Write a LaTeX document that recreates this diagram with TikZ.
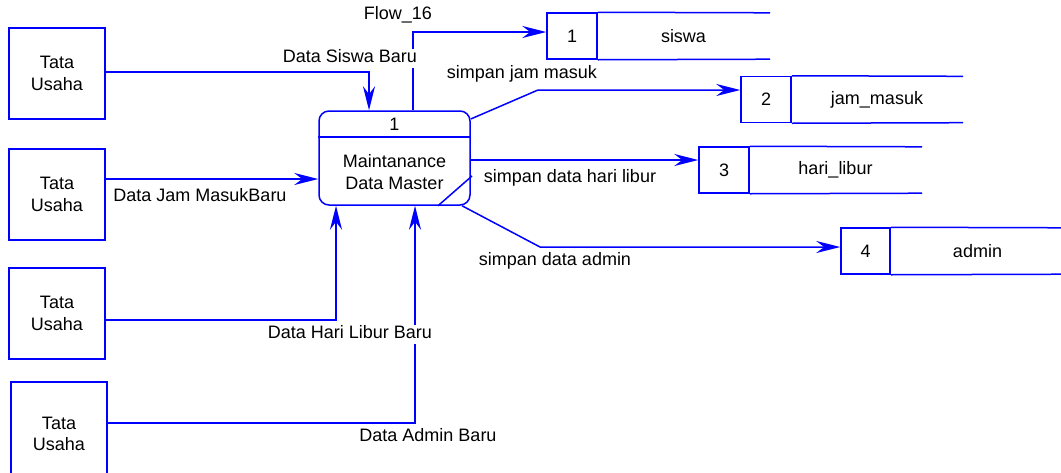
\documentclass[tikz,border=0pt]{standalone}
\usepackage{fontspec}
\setmainfont{Liberation Sans}
\usetikzlibrary{arrows.meta}
\definecolor{dfdblue}{RGB}{0,0,255}
\tikzset{
  base/.style={line width=1.5pt, draw=dfdblue},
  ent/.style={base, minimum width=96pt, minimum height=91pt, inner sep=0pt, align=center, font=\dfdfont},
  proc/.style={base, rounded corners=10pt, minimum width=151pt, minimum height=94pt, inner sep=0pt},
  numcell/.style={base, minimum width=50pt, minimum height=46pt, inner sep=0pt, font=\dfdfont},
  namecell/.style={minimum height=46pt, inner sep=0pt, font=\dfdfont},
  txt/.style={font=\dfdfont, align=center, inner sep=0pt},
  flow/.style={line width=1.5pt, draw=dfdblue, -{Stealth[length=24pt,width=12pt,inset=8pt]}},
  plain/.style={line width=1.5pt, draw=dfdblue},
  lbl/.style={font=\dfdfont, fill=white, inner sep=1pt, text height=13pt, text depth=4pt}
}
\newcommand{\dfdfont}{\fontsize{18}{21.5}\selectfont}
\begin{document}
\begin{tikzpicture}[x=1pt,y=-1pt]
\clip (0,0) rectangle (1061,472);
\fill[white] (0,0) rectangle (1061,472);
% external entities
\node[ent] (e1) at (57,73.5) {Tata\\Usaha};
\node[ent] (e2) at (57,194.5) {Tata\\Usaha};
\node[ent] (e3) at (57,313.5) {Tata\\Usaha};
\node[ent, minimum height=100pt, text depth=0pt] (e4) at (59,432) {\raisebox{9pt}{\parbox{60pt}{\centering Tata\\Usaha}}};
% process
\node[proc] (p) at (394.5,158) {};
\draw[plain] (p.west |- 0,137) -- (p.east |- 0,137);
\node[txt] (pnum) at (394.5,124) {1};
\node[txt] (pname) at (394.5,172) {Maintanance\\Data Master};
% data stores
\node[numcell] (s1) at (572,36) {1};
\node[namecell, minimum width=173pt] (s1n) at (683.5,36) {siswa};
\draw[plain] (s1.north east) -- (s1n.north east) (s1.south east) -- (s1n.south east);
\node[numcell] (s2) at (766,99.5) {2};
\node[namecell, minimum width=172pt] (s2n) at (877,99.5) {jam\_masuk};
\draw[plain] (s2.north east) -- (s2n.north east) (s2.south east) -- (s2n.south east);
\node[numcell] (s3) at (724,170) {3};
\node[namecell, minimum width=173pt] (s3n) at (835.5,170) {hari\_libur};
\draw[plain] (s3.north east) -- (s3n.north east) (s3.south east) -- (s3n.south east);
\node[numcell, minimum width=49pt] (s4) at (865.5,251) {4};
\node[namecell, minimum width=175pt] (s4n) at (977.5,251) {admin};
\draw[plain] (s4.north east) -- (s4n.north east) (s4.south east) -- (s4n.south east);
% flows
\draw[flow] (e1.east |- 0,72) -| (p.north -| 369,0);
\draw[flow] (p.north -| 413,0) |- (s1.west |- 0,32);
\draw[flow] (p.north east |- 0,119) -- (538,90) -- (s2.west |- 0,90);
\draw[flow] (p.east |- 0,160) -- (s3.west |- 0,160);
\draw[flow] (p.south -| 462,0) -- (540,247) -- (s4.west |- 0,247);
\draw[flow] (e2.east |- 0,179) -- (p.west |- 0,179);
\draw[flow] (e3.east |- 0,320) -| (p.south -| 336,0);
\draw[flow] (e4.east |- 0,423) -| (p.south -| 415,0);
\draw[plain] (p.south -| 438,0) -- (472,176);
% labels
\node[lbl] (l1) at (350,58) {Data Siswa Baru};
\node[lbl] (l2) at (398,15) {Flow\_16};
\node[lbl] (l3) at (522,74) {simpan jam masuk};
\node[lbl] (l4) at (570,178) {simpan data hari libur};
\node[lbl] (l5) at (555,261) {simpan data admin};
\node[lbl] (l6) at (200,197) {Data Jam MasukBaru};
\node[lbl] (l7) at (350,334) {Data Hari Libur Baru};
\node[lbl] (l8) at (428,437) {Data Admin Baru};
\end{tikzpicture}
\end{document}
